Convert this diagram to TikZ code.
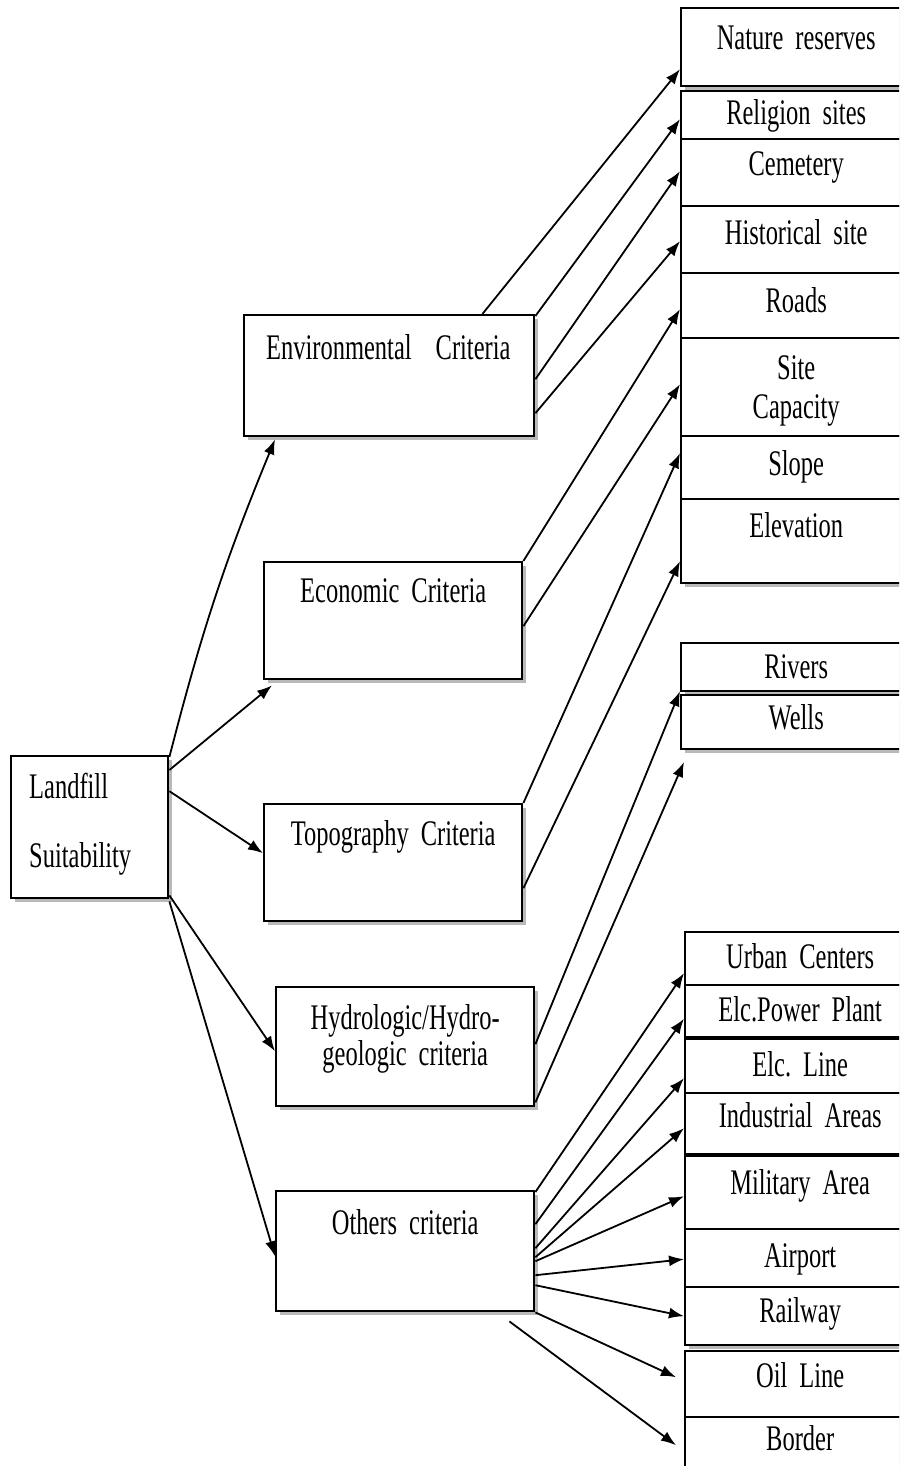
\documentclass[tikz,border=0pt]{standalone}
\usepackage{fontspec}
\setmainfont[FakeStretch=0.68]{Liberation Serif}
\usetikzlibrary{arrows.meta,shadows}
\newcommand\critfont{\fontsize{18}{19}\selectfont\spaceskip=2.6pt\relax}

\begin{document}
\begin{tikzpicture}[x=0.5pt, y=-0.5pt, >={Latex[length=7.5pt,width=5.5pt]}, line width=0.9pt,
	crit/.style={draw, line width=1.2pt, fill=white, anchor=north west, inner xsep=0pt, inner ysep=0pt, align=center,
		font=\critfont, drop shadow={shadow xshift=1.75pt, shadow yshift=-1.75pt, opacity=.55}},
	mbox/.style={crit, text width=129pt},
	rbox/.style={crit, text width=115pt}]
	\clip (0,0) rectangle (899,1466);
	
	% Nodes {main, criteria, factors}
	\node [crit, inner xsep=9pt, text width=60.5pt, align=left, text height=21pt, text depth=50pt] (land) at (10,755) {Landfill\\[15.5pt]Suitability};
	
	\node [crit, inner xsep=11pt, text width=123pt, align=left, text height=22pt, text depth=38.5pt] (env) at (243,314) {Environmental\ \ Criteria};
	\node [mbox, text height=20pt,   text depth=38.5pt] (eco) at (263,561)  {Economic Criteria};
	\node [mbox, text height=20.5pt, text depth=38pt]   (top) at (263,803)  {Topography Criteria};
	\node [mbox, text height=21pt,   text depth=38.5pt] (hyd) at (275,986)  {Hydrologic/Hydro-\\[-1pt]geologic criteria};
	\node [mbox, text height=21.5pt, text depth=38.5pt] (oth) at (275,1190) {Others criteria};
	
	\node [rbox, text height=20.5pt, text depth=18.5pt] (nat) at (680,7)   {Nature reserves};
	\node [rbox, text height=16.5pt, text depth=7.5pt]  (rel) at (680,90)  {Religion sites};
	\node [rbox, text height=18pt,   text depth=15.5pt] (cem) at (680,138) {Cemetery};
	\node [rbox, text height=19pt,   text depth=14.5pt] (his) at (680,205) {Historical site};
	\node [rbox, text height=19.5pt, text depth=13pt]   (roa) at (680,272) {Roads};
	\node [rbox, text height=20.5pt, text depth=28.5pt] (sit) at (680,337) {Site\\[0.5pt]Capacity};
	\node [rbox, text height=19.5pt, text depth=12pt]   (slo) at (680,435) {Slope};
	\node [rbox, text height=19pt,   text depth=23pt]   (ele) at (680,498) {Elevation};
	
	\node [rbox, text height=17.5pt, text depth=6.5pt]  (riv) at (680,642) {Rivers};
	\node [rbox, text height=17pt,   text depth=10pt]   (wel) at (680,694) {Wells};
	
	\node [rbox, text height=18pt,   text depth=8.5pt]  (urb) at (684,931)  {Urban Centers};
	\node [rbox, text height=18pt,   text depth=8pt]    (pow) at (684,984)  {Elc.Power Plant};
	\node [rbox, text height=18.5pt, text depth=8.5pt]  (lin) at (684,1038) {Elc.\ Line};
	\node [rbox, text height=17pt,   text depth=13.5pt] (ind) at (684,1092) {Industrial Areas};
	\node [rbox, text height=19pt,   text depth=17.5pt] (mil) at (684,1155) {Military Area};
	\node [rbox, text height=19pt,   text depth=10pt]   (air) at (684,1228) {Airport};
	\node [rbox, text height=17.5pt, text depth=11.5pt] (rai) at (684,1286) {Railway};
	\node [rbox, text height=18pt,   text depth=15pt]   (oil) at (684,1350) {Oil Line};
	\node [rbox, text height=16.5pt, text depth=13.5pt] (bor) at (684,1416) {Border};
	
	\coordinate (wfree) at (684,762);
	
	% Paths
	\draw [->] ([yshift=-1pt]land.north east) to [bend left=4] ([xshift=16pt,yshift=-1pt]env.south west);
	\draw [->] ([yshift=-7.5pt]land.north east) -- ([xshift=4.5pt,yshift=-2.5pt]eco.south west);
	\draw [->] ([yshift=18pt]land.east) -- ([yshift=4.75pt]top.west);
	\draw [->] ([yshift=2pt]land.south east) -- ([yshift=-2.25pt]hyd.west);
	\draw [->] ([yshift=-1pt]land.south east) -- ([yshift=-2.5pt]oth.west);
	
	\draw [->] ([xshift=-26.5pt]env.north east) -- ([yshift=-11pt]nat.west);
	\draw [->] ([yshift=-1pt]env.north east) -- ([yshift=-2pt]rel.west);
	\draw [->] ([yshift=-1.75pt]env.east) -- ([yshift=0.75pt]cem.west);
	\draw [->] ([yshift=-18.75pt]env.east) -- ([yshift=-0.75pt]his.west);
	
	\draw [->] (eco.north east) -- ([yshift=-1.75pt]roa.west);
	\draw [->] ([yshift=-2.75pt]eco.east) -- ([yshift=1.5pt]sit.west);
	
	\draw [->] (top.north east) -- ([yshift=7.25pt]slo.west);
	\draw [->] ([yshift=-12.75pt]top.east) -- ([yshift=-10pt]ele.west);
	
	\draw [->] ([yshift=1.25pt]hyd.east) -- ([yshift=-12pt]riv.west);
	\draw [->] ([yshift=2.5pt]hyd.south east) -- (wfree);
	
	\draw [->] ([yshift=-1pt]oth.north east) -- ([yshift=-7.25pt]urb.west);
	\draw [->] ([yshift=13.5pt]oth.east) -- ([yshift=-3.75pt]pow.west);
	\draw [->] ([yshift=1.5pt]oth.east) -- ([yshift=-6pt]lin.west);
	\draw [->] ([yshift=-3pt]oth.east) -- ([yshift=-2.25pt]ind.west);
	\draw [->] ([yshift=-5pt]oth.east) -- ([yshift=-1.75pt]mil.west);
	\draw [->] ([yshift=-12pt]oth.east) -- ([yshift=-0.5pt]air.west);
	\draw [->] ([yshift=-17pt]oth.east) -- (rai.west);
	\draw [->] (oth.south east) -- ([xshift=-4pt,yshift=3.5pt]oil.west);
	\draw [->] ([xshift=-13pt,yshift=-4.5pt]oth.south east) -- ([xshift=-4pt,yshift=1pt]bor.west);
	
\end{tikzpicture}
\end{document}
